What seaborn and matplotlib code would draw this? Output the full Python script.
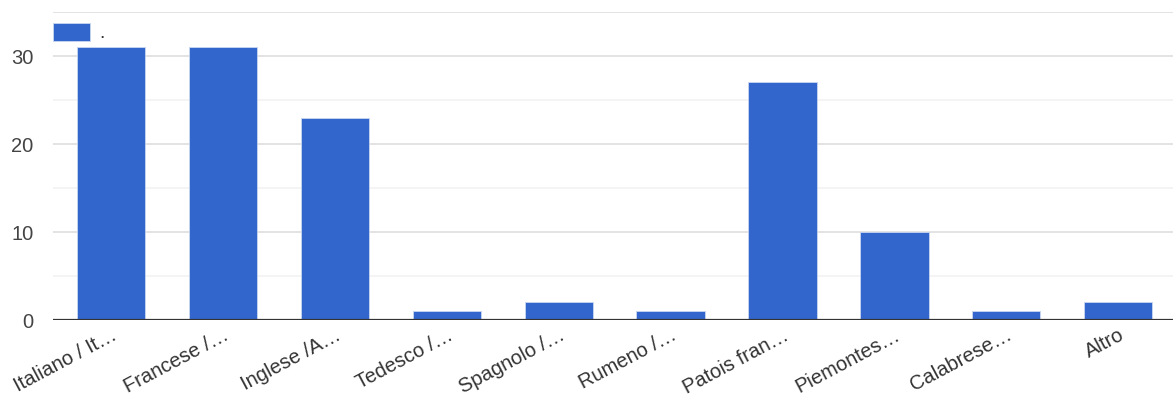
import matplotlib
matplotlib.use("Agg")
import matplotlib.pyplot as plt
import seaborn as sns
import pandas as pd
from matplotlib.patches import Patch

categories = ["Italiano / It…", "Francese /…", "Inglese /A…", "Tedesco /…", "Spagnolo /…",
              "Rumeno /…", "Patois fran…", "Piemontes…", "Calabrese…", "Altro"]
counts = [31, 31, 23, 1, 2, 1, 27, 10, 1, 2]
series_label = "."
y_ticks = [0, 10, 20, 30]

bar_color = "#3366cc"

sns.set_theme(style="white")
plt.rcParams["font.family"] = ["Liberation Sans", "DejaVu Sans"]

df = pd.DataFrame({"category": categories, "count": counts})

fig = plt.figure(figsize=(11.73, 4.01), dpi=100)
ax = fig.add_axes([53 / 1173, 81 / 401, 1 - 53 / 1173, (320 - 12) / 401])

sns.barplot(data=df, x="category", y="count", color=bar_color, saturation=1,
            width=0.61, edgecolor="#c9d6f0", linewidth=0.6, ax=ax, zorder=3)

ax.set_xlim(-0.52, 9.49)
ax.set_ylim(0, 35)

# gridlines: major every 10, minor every 5
for v in [5, 15, 25]:
    ax.axhline(v, color="#f2f2f2", lw=1.2, zorder=1)
for v in [10, 20, 30, 35]:
    ax.axhline(v, color="#e3e3e3", lw=1.4, zorder=1)
ax.axhline(0, color="#333333", lw=1.6, zorder=4)

ax.set_yticks(y_ticks)
ax.set_yticklabels([str(t) for t in y_ticks], fontsize=14.5, color="#444444")
ax.tick_params(axis="y", length=0, pad=14)
ax.tick_params(axis="x", length=0, pad=4)
ax.set_xticks(range(len(categories)))
ax.set_xticklabels(categories, rotation=28, ha="right", rotation_mode="anchor",
                   fontsize=14.5, color="#333333")
ax.set_xlabel("")
ax.set_ylabel("")
for s in ax.spines.values():
    s.set_visible(False)

handle = Patch(facecolor=bar_color, edgecolor="#c9d6f0", linewidth=0.6)
leg = ax.legend([handle], [series_label], loc="upper left", bbox_to_anchor=(0.0, 0.965),
                frameon=False, fontsize=14, handlelength=1.9, handleheight=1.05,
                handletextpad=0.5, borderaxespad=0.0, borderpad=0.0)
for t in leg.get_texts():
    t.set_color("#333333")

fig.savefig("out.png", dpi=100, facecolor="white")
